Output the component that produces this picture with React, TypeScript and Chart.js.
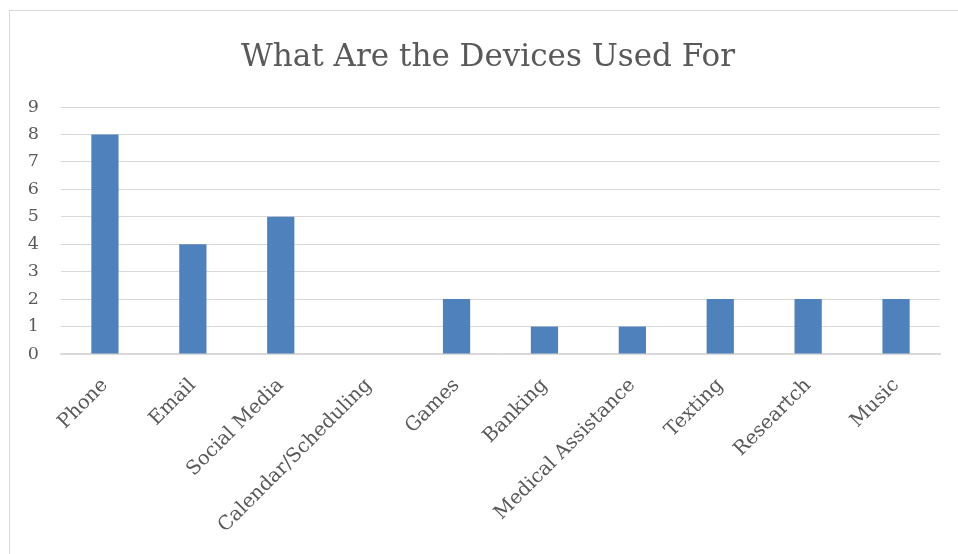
import React, { useEffect, useRef } from "react";
import { Chart, registerables } from "chart.js";

Chart.register(...registerables);

const categories = [
  "Phone",
  "Email",
  "Social Media",
  "Calendar/Scheduling",
  "Games",
  "Banking",
  "Medical Assistance",
  "Texting",
  "Researtch",
  "Music",
];
const counts = [8, 4, 5, 0, 2, 1, 1, 2, 2, 2];
const yTicks = [0, 1, 2, 3, 4, 5, 6, 7, 8, 9];
const titleText = "What Are the Devices Used For";

const FONT = "'DejaVu Serif', 'Liberation Serif', serif";
const TEXT = "#595959";

const frameAndTitle = {
  id: "frameAndTitle",
  beforeDraw(chart: any) {
    const ctx = chart.ctx;
    ctx.save();
    ctx.fillStyle = "#ffffff";
    ctx.fillRect(0, 0, chart.width, chart.height);
    ctx.strokeStyle = "#d9d9d9";
    ctx.lineWidth = 1;
    ctx.strokeRect(9.5, 10.5, 970, 600);
    ctx.restore();
  },
  afterDraw(chart: any) {
    const ctx = chart.ctx;
    ctx.save();
    ctx.fillStyle = TEXT;
    ctx.font = `31px ${FONT}`;
    ctx.textAlign = "center";
    ctx.textBaseline = "alphabetic";
    ctx.fillText(titleText, 488, 66);
    ctx.restore();
  },
};

export default function App() {
  const ref = useRef<HTMLCanvasElement>(null);
  useEffect(() => {
    document.body.style.margin = "0";
    const chart = new Chart(ref.current!, {
      type: "bar",
      data: {
        labels: categories,
        datasets: [
          {
            data: counts,
            backgroundColor: "#4f81bd",
            borderWidth: 0,
            barPercentage: 0.31,
            categoryPercentage: 1,
          },
        ],
      },
      options: {
        animation: false,
        responsive: false,
        events: [],
        layout: { padding: { left: 0, top: 107, right: 18, bottom: 0 } },
        plugins: {
          legend: { display: false },
          title: { display: false },
          tooltip: { enabled: false },
        },
        scales: {
          x: {
            grid: { display: false },
            border: { color: "#d9d9d9", width: 1.5 },
            ticks: {
              color: TEXT,
              font: { family: FONT, size: 19.5 },
              maxRotation: 45,
              minRotation: 45,
              autoSkip: false,
              padding: 12,
            },
            afterFit(scale: any) {
              scale.height = 200;
            },
          },
          y: {
            min: 0,
            max: 9,
            afterBuildTicks(scale: any) {
              scale.ticks = yTicks.map((v) => ({ value: v }));
            },
            grid: { color: "#d9d9d9", lineWidth: 1, drawTicks: false },
            border: { display: false },
            ticks: {
              color: TEXT,
              font: { family: FONT, size: 17.5 },
              padding: 22,
              align: "center",
            },
            afterFit(scale: any) {
              scale.width = 61;
            },
          },
        },
      },
      plugins: [frameAndTitle],
    });
    return () => chart.destroy();
  }, []);
  return <canvas ref={ref} width={958} height={554} style={{ display: "block" }} />;
}
